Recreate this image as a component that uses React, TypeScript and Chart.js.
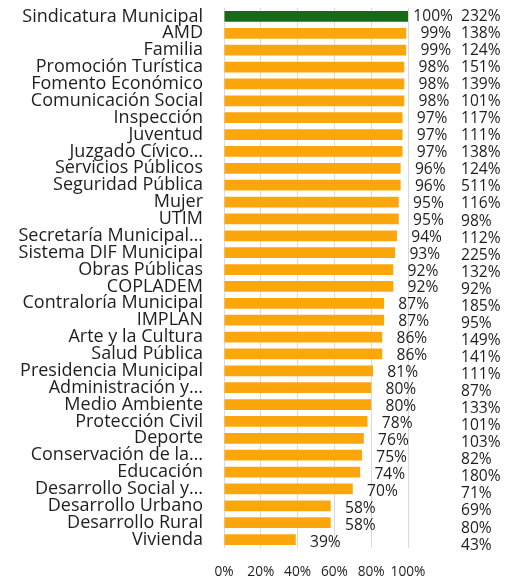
import React, { useEffect, useRef } from "react";
import { Chart, registerables } from "chart.js";

Chart.register(...registerables);

const categories = [
  "Sindicatura Municipal", "AMD", "Familia", "Promoción Turística", "Fomento Económico",
  "Comunicación Social", "Inspección", "Juventud", "Juzgado Cívico…", "Servicios Públicos",
  "Seguridad Pública", "Mujer", "UTIM", "Secretaría Municipal…", "Sistema DIF Municipal",
  "Obras Públicas", "COPLADEM", "Contraloría Municipal", "IMPLAN", "Arte y la Cultura",
  "Salud Pública", "Presidencia Municipal", "Administración y…", "Medio Ambiente",
  "Protección Civil", "Deporte", "Conservación de la…", "Educación", "Desarrollo Social y…",
  "Desarrollo Urbano", "Desarrollo Rural", "Vivienda",
];
const avance = [100, 99, 99, 98, 98, 98, 97, 97, 97, 96, 96, 95, 95, 94, 93, 92, 92, 87, 87, 86, 86, 81, 80, 80, 78, 76, 75, 74, 70, 58, 58, 39];
const segunda = [232, 138, 124, 151, 139, 101, 117, 111, 138, 124, 511, 116, 98, 112, 225, 132, 92, 185, 95, 149, 141, 111, 87, 133, 101, 103, 82, 180, 71, 69, 80, 43];
const xTicks = [0, 20, 40, 60, 80, 100];

const FONT = "'Open Sans'";
const TEXT = "#1e1e1e";

function fitSize(): number {
  const c = document.createElement("canvas").getContext("2d");
  if (!c) return 15;
  c.font = `16px ${FONT}`;
  const w = c.measureText("Sindicatura Municipal").width;
  return Math.max(12, Math.min(18, (16 * 183) / w));
}

export default function App() {
  const ref = useRef<HTMLCanvasElement | null>(null);
  useEffect(() => {
    if (!ref.current) return;
    const catSize = fitSize();
    const valSize = 15.6;
    const labelsPlugin = {
      id: "valueLabels",
      afterDatasetsDraw(chart: any) {
        const ctx = chart.ctx;
        const meta = chart.getDatasetMeta(0);
        const area = chart.chartArea;
        ctx.save();
        ctx.font = `${valSize}px ${FONT}`;
        ctx.fillStyle = TEXT;
        ctx.textBaseline = "middle";
        meta.data.forEach((el: any, i: number) => {
          ctx.textAlign = "right";
          ctx.fillText(avance[i] + "%", el.x + 45, el.y + i * 0.1);
          ctx.textAlign = "left";
          ctx.fillText(segunda[i] + "%", area.right + 53, el.y + i * 0.18);
        });
        ctx.restore();
      },
    };
    const chart = new Chart(ref.current, {
      type: "bar",
      data: {
        labels: categories,
        datasets: [
          {
            data: avance,
            backgroundColor: avance.map((_, i) => (i === 0 ? "#176b17" : "#fba70c")),
            categoryPercentage: 1,
            barPercentage: 0.63,
          },
        ],
      },
      options: {
        indexAxis: "y",
        responsive: false,
        animation: false,
        layout: { padding: { top: 8, right: 112, left: 0, bottom: 0 } },
        plugins: { legend: { display: false }, tooltip: { enabled: false } },
        scales: {
          x: {
            min: 0,
            max: 100,
            afterBuildTicks: (s: any) => {
              s.ticks = xTicks.map((v) => ({ value: v }));
            },
            afterFit: (s: any) => {
              s.height = 31;
              s.paddingLeft = 0;
              s.paddingRight = 0;
            },
            ticks: {
              padding: 16,
              maxRotation: 0,
              minRotation: 0,
              autoSkip: false,
              color: TEXT,
              font: { family: FONT, size: 13.7 },
              callback: (v: any) => v + "%",
            },
            grid: { color: "#d9d9d9", drawTicks: false, lineWidth: 1 },
            border: { display: false },
          },
          y: {
            afterFit: (s: any) => {
              s.width = 224;
              s.paddingTop = 0;
              s.paddingBottom = 0;
            },
            ticks: {
              padding: 21,
              color: TEXT,
              font: { family: FONT, size: catSize },
              autoSkip: false,
            },
            grid: { display: false, drawTicks: false },
            border: { display: false },
          },
        },
      },
      plugins: [labelsPlugin],
    });
    return () => chart.destroy();
  }, []);
  return (
    <div style={{ position: "fixed", left: 0, top: 0, width: 520, height: 579, background: "#fff" }}>
      <canvas ref={ref} width={520} height={579} />
    </div>
  );
}
